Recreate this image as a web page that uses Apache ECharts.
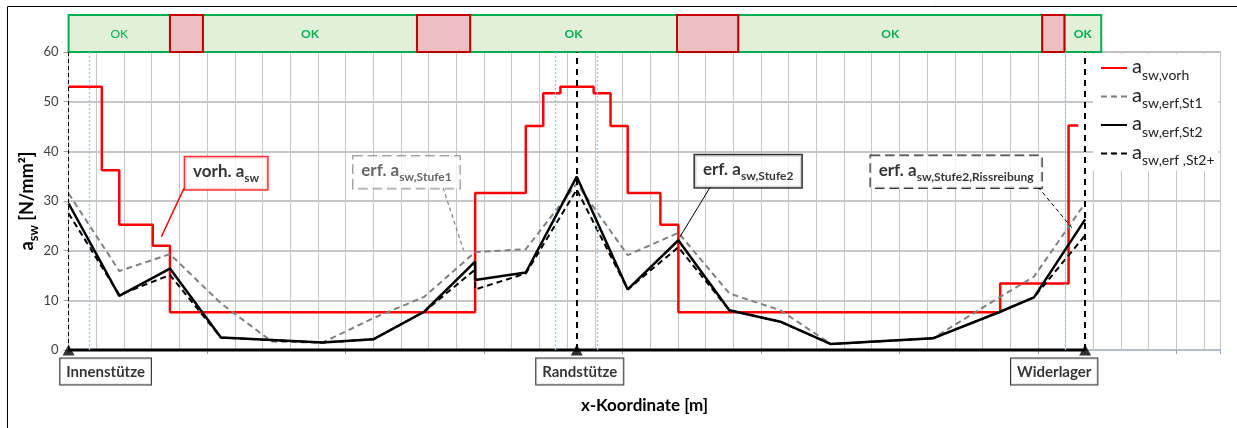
<!DOCTYPE html>
<html><head><meta charset="utf-8">
<script src="https://cdn.jsdelivr.net/npm/echarts@6/dist/echarts.min.js"></script>
<style>html,body{margin:0;padding:0;background:#fff}#c{width:1237px;height:428px}</style>
</head><body><div id="c"></div>
<script>
// ---------- data ----------
const xExtent = [0, 41.6];
const yExtent = [0, 60];
const yStep = 10;

// a_sw,vorh (step function: value valid from x[i] to x[i+1])
const vorhX = [0, 1.2, 1.83, 3.04, 3.66, 14.68, 16.51, 17.14, 17.76, 18.96, 19.57, 20.19, 21.37, 22.02, 33.64, 36.11, 36.46];
const vorhY = [53, 36.2, 25.2, 21.0, 7.6, 31.6, 45.1, 51.7, 53, 51.7, 45.1, 31.6, 25.2, 7.6, 13.4, 45.2, 45.2];

// a_sw,erf,St1
const st1X = [0, 1.83, 3.66, 5.50, 7.34, 9.17, 11.0, 12.84, 14.68, 16.51, 18.35, 20.19, 22.02, 23.86, 25.70, 27.53, 31.21, 33.64, 34.86, 36.71];
const st1Y = [31.5, 15.9, 19.3, 9.4, 1.7, 1.5, 6.4, 10.7, 19.7, 20.3, 33.5, 19.1, 23.6, 11.4, 8.0, 1.2, 2.35, 10.7, 14.75, 29.6];

// a_sw,erf,St2
const st2X = [0, 1.83, 3.66, 5.50, 9.17, 11.0, 12.84, 14.68, 14.68, 16.51, 18.35, 20.19, 22.02, 23.86, 25.70, 27.53, 31.21, 33.64, 34.86, 36.71];
const st2Y = [29.5, 10.9, 16.4, 2.5, 1.5, 2.15, 7.7, 17.8, 14.1, 15.6, 34.9, 12.2, 22.1, 8.0, 5.7, 1.2, 2.35, 7.7, 10.6, 26.3];

// a_sw,erf,St2+
const st2pX = st2X;
const st2pY = [27.5, 11.1, 15.1, 2.5, 1.5, 2.15, 7.7, 16.2, 12.2, 15.4, 32.3, 12.2, 20.7, 8.0, 5.7, 1.2, 2.35, 7.7, 10.6, 23.1];

// supports
const supportNames = ['Innenstütze', 'Randstütze', 'Widerlager'];
const supportX = [0, 18.35, 36.71];

// section borders (dotted blue)
const sectionX = [0.74, 17.59, 19.10, 35.99];

// check bar (1 = OK, 0 = not OK)
const checkStart = [0, 3.66, 4.85, 12.58, 14.50, 21.97, 24.18, 35.16, 35.96];
const checkEnd   = [3.66, 4.85, 12.58, 14.50, 21.97, 24.18, 35.16, 35.96, 37.29];
const checkOK    = [1, 0, 1, 0, 1, 0, 1, 0, 1];

// legend labels
const legendText = {
  'vorh': ['a', 'sw,vorh'],
  'St1':  ['a', 'sw,erf,St1'],
  'St2':  ['a', 'sw,erf,St2'],
  'St2+': ['a', 'sw,erf ,St2+']
};

// callouts
const callouts = [
  {main: 'vorh. a', sub: 'sw', at: [5.69, 35.6], from: [4.17, 32.6], to: [3.35, 22.8], kind: 'red'},
  {main: 'erf. a', sub: 'sw,Stufe1', at: [12.2, 35.8], from: [13.52, 32.7], to: [14.26, 20.1], kind: 'gray'},
  {main: 'erf. a', sub: 'sw,Stufe2', at: [24.54, 36.0], from: [23.17, 32.8], to: [22.08, 22.8], kind: 'black'},
  {main: 'erf. a', sub: 'sw,Stufe2,Rissreibung', at: [32.05, 35.9], from: [35.01, 32.8], to: [36.29, 24.2], kind: 'blackdash'}
];
const supportLabelOffset = [[37, 0], [3, 0], [-31, 0]];

// ---------- chart ----------
const FONT = 'Lato';
const zip = (xs, ys) => xs.map((x, i) => [x, ys[i]]);

const ICON_SOLID = 'path://M0,0H26V1H0Z';
const ICON_DASH = 'path://M0,0h7v1h-7z M9.5,0h7v1h-7z M19,0h7v1h-7z';

const calloutStyle = {
  red:       {border: '#ff0000', bw: 1.5, type: 'solid', text: '#000', lead: '#ff0000', leadType: 'solid', leadW: 1.5},
  gray:      {border: '#8a8a8a', bw: 1.2, type: 'dashed', text: '#404040', lead: '#8a8a8a', leadType: 'dashed', leadW: 1.3},
  black:     {border: '#000', bw: 1.5, type: 'solid', text: '#000', lead: '#000', leadType: 'solid', leadW: 1},
  blackdash: {border: '#000', bw: 1.2, type: 'dashed', text: '#000', lead: '#000', leadType: 'dashed', leadW: 1}
};

const series = [];

// beam + vertical reference lines
series.push({
  type: 'line', name: 'beam', z: 1, clip: false, symbol: 'none', silent: true,
  data: [[supportX[0], 0], [supportX[supportX.length - 1], 0]],
  lineStyle: {color: '#000', width: 3},
  markLine: {
    silent: true, symbol: 'none', label: {show: false},
    data: [
      ...sectionX.map(x => ({xAxis: x, lineStyle: {color: '#9dc3e6', width: 1.3, type: [2, 2]}})),
      {xAxis: supportX[0], lineStyle: {color: '#000', width: 1, type: [4, 3]}},
      {xAxis: supportX[1], lineStyle: {color: '#000', width: 2, type: [6, 5]}},
      {xAxis: supportX[2], lineStyle: {color: '#000', width: 2, type: [6, 5]}}
    ]
  }
});

series.push({
  type: 'line', name: 'vorh', z: 2, symbol: 'none', step: 'end', legendIcon: ICON_SOLID,
  data: zip(vorhX, vorhY), lineStyle: {color: '#ff0000', width: 2.5}, itemStyle: {color: '#ff0000'}
});
series.push({
  type: 'line', name: 'St1', z: 3, symbol: 'none', legendIcon: ICON_DASH,
  data: zip(st1X, st1Y), lineStyle: {color: '#808080', width: 2, type: [6, 4]}, itemStyle: {color: '#808080'}
});
series.push({
  type: 'line', name: 'St2+', z: 4, symbol: 'none', legendIcon: ICON_DASH,
  data: zip(st2pX, st2pY), lineStyle: {color: '#000', width: 2, type: [6, 4]}, itemStyle: {color: '#000'}
});
series.push({
  type: 'line', name: 'St2', z: 5, symbol: 'none', legendIcon: ICON_SOLID,
  data: zip(st2X, st2Y), lineStyle: {color: '#000', width: 2.5}, itemStyle: {color: '#000'}
});

// supports
series.push({
  type: 'scatter', name: 'supports', z: 8, clip: false, silent: true,
  symbol: 'triangle', symbolSize: [12, 11],
  itemStyle: {color: '#000'},
  data: supportX.map((x, i) => ({
    value: [x, 0], name: supportNames[i],
    label: {offset: supportLabelOffset[i]}
  })),
  label: {
    show: true, position: 'bottom', distance: 3,
    formatter: p => p.name,
    fontFamily: FONT, fontWeight: 'bold', fontSize: 15, color: '#000',
    backgroundColor: '#fff', borderColor: '#000', borderWidth: 1, padding: [6, 6, 5, 6]
  }
});

// callouts
callouts.forEach((c, i) => {
  const st = calloutStyle[c.kind];
  series.push({
    type: 'line', name: 'lead' + i, z: 9, symbol: 'none', silent: true, clip: false,
    data: [c.from, c.to], lineStyle: {color: st.lead, width: st.leadW, type: st.leadType === 'dashed' ? [4, 3] : 'solid'}
  });
  series.push({
    type: 'scatter', name: 'callout' + i, z: 10, symbolSize: 0, silent: true, clip: false,
    data: [c.at],
    label: {
      show: true, position: 'inside',
      formatter: `{m|${c.main}}{s|${c.sub}}`,
      backgroundColor: '#fff', borderColor: st.border, borderWidth: st.bw, borderType: st.type,
      padding: [6, 8, 6, 8],
      rich: {
        m: {fontFamily: FONT, fontWeight: 'bold', fontSize: 17, lineHeight: 20, verticalAlign: 'top', color: st.text},
        s: {fontFamily: FONT, fontWeight: 'bold', fontSize: 12, lineHeight: 12, padding: [9, 0, 0, 0], verticalAlign: 'top', color: st.text}
      }
    }
  });
});

// check bar
series.push({
  type: 'custom', name: 'check', xAxisIndex: 2, yAxisIndex: 1, silent: true,
  data: checkStart.map((s, i) => [s, checkEnd[i], checkOK[i]]),
  renderItem: function (params, api) {
    const p0 = api.coord([api.value(0), 1]);
    const p1 = api.coord([api.value(1), 0]);
    const ok = api.value(2) === 1;
    const children = [{
      type: 'rect', z2: ok ? 0 : 5,
      shape: {x: p0[0], y: p0[1], width: p1[0] - p0[0], height: p1[1] - p0[1]},
      style: {fill: ok ? '#e2f0d9' : '#ecc0c0', stroke: ok ? '#00b050' : '#c00000', lineWidth: 2}
    }];
    if (ok) {
      children.push({
        type: 'text', z2: 10, x: (p0[0] + p1[0]) / 2, y: (p0[1] + p1[1]) / 2 + 1,
        style: {text: 'OK', align: 'center', verticalAlign: 'middle', fill: '#00b050',
          font: (params.dataIndex === 0 ? 'normal ' : 'bold ') + '12px ' + FONT}
      });
    }
    return {type: 'group', children};
  }
});

const chart = echarts.init(document.getElementById('c'), null, {renderer: 'canvas'});
chart.setOption({
  animation: false,
  backgroundColor: '#fff',
  textStyle: {fontFamily: FONT},
  graphic: [{type: 'rect', shape: {x: 7.5, y: 6.5, width: 1300, height: 500}, style: {fill: 'none', stroke: '#000', lineWidth: 1}, z: -10, silent: true}],
  grid: [
    {left: 68.6, right: 16.4, top: 52, bottom: 78, show: true, borderColor: '#a9c4e8', borderWidth: 1},
    {left: 68.6, right: 16.4, top: 15, height: 37}
  ],
  legend: {
    data: ['vorh', 'St1', 'St2', 'St2+'],
    orient: 'vertical', left: 1093, top: 54,
    itemWidth: 26, itemHeight: 2.5, itemGap: 3.5,
    backgroundColor: '#fff', padding: [3, 4, 3, 7],
    formatter: n => `{a|${legendText[n][0]}}{s|${legendText[n][1]}}`,
    textStyle: {
      color: '#222',
      rich: {
        a: {fontFamily: FONT, fontSize: 20, lineHeight: 22, verticalAlign: 'top', color: '#222'},
        s: {fontFamily: FONT, fontSize: 14, lineHeight: 14, padding: [11, 0, 0, 0], verticalAlign: 'top', color: '#222'}
      }
    }
  },
  xAxis: [
    {
      type: 'value', gridIndex: 0, min: xExtent[0], max: xExtent[1], interval: 1,
      axisLine: {show: true, lineStyle: {color: '#a9bcd9', width: 1}},
      axisTick: {show: false}, axisLabel: {show: false},
      splitLine: {show: true, lineStyle: {color: '#c6c6c6', width: 1}},
      name: 'x-Koordinate [m]', nameLocation: 'middle', nameGap: 47, nameMoveOverlap: false,
      nameTextStyle: {fontFamily: FONT, fontWeight: 'bold', fontSize: 17, color: '#000'}
    },
    {
      type: 'value', gridIndex: 0, position: 'bottom', min: xExtent[0], max: xExtent[1], interval: 5,
      axisLine: {show: false}, axisLabel: {show: false}, splitLine: {show: false},
      axisTick: {show: true, length: 4, lineStyle: {color: '#a0a0a0'}}
    },
    {
      type: 'value', gridIndex: 1, min: xExtent[0], max: xExtent[1], show: false
    }
  ],
  yAxis: [
    {
      type: 'value', gridIndex: 0, min: yExtent[0], max: yExtent[1], interval: yStep,
      axisLine: {show: false},
      axisTick: {show: true, length: 5, lineStyle: {color: '#a0a0a0'}},
      axisLabel: {color: '#404040', fontSize: 13, fontFamily: FONT, margin: 10},
      splitLine: {show: true, lineStyle: {color: '#b4b4b4', width: 1.5}},
      name: '{a|a}{s|sw}{a| [N/mm²]}', nameLocation: 'middle', nameGap: 30, nameMoveOverlap: false,
      nameTextStyle: {
        rich: {
          a: {fontFamily: FONT, fontWeight: 'bold', fontSize: 18, lineHeight: 20, verticalAlign: 'top', color: '#000'},
          s: {fontFamily: FONT, fontWeight: 'bold', fontSize: 13, lineHeight: 13, padding: [9, 0, 0, 0], verticalAlign: 'top', color: '#000'}
        }
      }
    },
    {type: 'value', gridIndex: 1, min: 0, max: 1, show: false}
  ],
  series
});
</script></body></html>
